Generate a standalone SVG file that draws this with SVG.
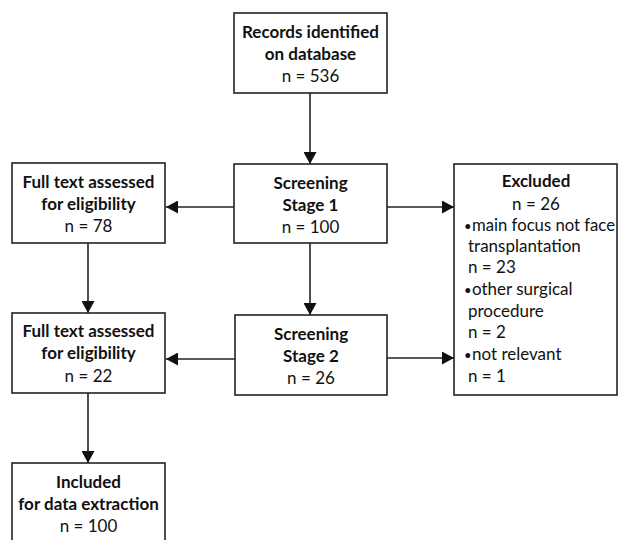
<svg xmlns="http://www.w3.org/2000/svg" width="619" height="540" viewBox="0 0 619 540">
<style>
.box{fill:#fff;stroke:#222;stroke-width:1.6}
.t{font-family:Lato,"Open Sans","Liberation Sans",sans-serif;font-size:17px;fill:#111;text-anchor:middle}
.b{font-weight:bold}
.l{text-anchor:start}
.c{stroke:#222;stroke-width:1.6;fill:none;marker-end:url(#ah)}
</style>
<defs>
<marker id="ah" markerWidth="13" markerHeight="13" refX="12" refY="6.5" orient="auto" markerUnits="userSpaceOnUse">
<path d="M0,0 L12,6.5 L0,13 z" fill="#111"/>
</marker>
</defs>
<rect width="619" height="540" fill="#fff"/>
<g id="connectors">
<line class="c" x1="310" y1="93" x2="310" y2="164"/>
<line class="c" x1="234" y1="207" x2="166" y2="207"/>
<line class="c" x1="387" y1="207" x2="454" y2="207"/>
<line class="c" x1="88" y1="243" x2="88" y2="313"/>
<line class="c" x1="310" y1="243" x2="310" y2="315"/>
<line class="c" x1="235" y1="359" x2="166" y2="359"/>
<line class="c" x1="387" y1="358" x2="454" y2="358"/>
<line class="c" x1="88" y1="393" x2="88" y2="463"/>
</g>
<g id="records">
<rect class="box" x="234" y="13" width="153" height="80"/>
<text class="t b" x="310.5" y="38">Records identified</text>
<text class="t b" x="310.5" y="60">on database</text>
<text class="t" x="310.5" y="82">n = 536</text>
</g>
<g id="fulltext1">
<rect class="box" x="12" y="163" width="153" height="80"/>
<text class="t b" x="88.5" y="188">Full text assessed</text>
<text class="t b" x="88.5" y="210">for eligibility</text>
<text class="t" x="88.5" y="232">n = 78</text>
</g>
<g id="screening1">
<rect class="box" x="234" y="164" width="153" height="79"/>
<text class="t b" x="310.5" y="189">Screening</text>
<text class="t b" x="310.5" y="211">Stage 1</text>
<text class="t" x="310.5" y="233">n = 100</text>
</g>
<g id="excluded">
<rect class="box" x="454" y="164" width="163" height="231"/>
<text class="t b" x="536" y="187">Excluded</text>
<text class="t" x="536" y="210">n = 26</text>
<text class="t l" y="231"><tspan x="464" font-size="13">•</tspan><tspan x="472" textLength="143" lengthAdjust="spacingAndGlyphs">main focus not face</tspan></text>
<text class="t l" x="468" y="252">transplantation</text>
<text class="t l" x="468" y="273">n = 23</text>
<text class="t l" y="295"><tspan x="464" font-size="13">•</tspan><tspan x="472">other surgical</tspan></text>
<text class="t l" x="468" y="317">procedure</text>
<text class="t l" x="468" y="338">n = 2</text>
<text class="t l" y="360"><tspan x="464" font-size="13">•</tspan><tspan x="472">not relevant</tspan></text>
<text class="t l" x="468" y="382">n = 1</text>
</g>
<g id="fulltext2">
<rect class="box" x="12" y="313" width="153" height="80"/>
<text class="t b" x="88.5" y="337">Full text assessed</text>
<text class="t b" x="88.5" y="359">for eligibility</text>
<text class="t" x="88.5" y="382">n = 22</text>
</g>
<g id="screening2">
<rect class="box" x="235" y="315" width="152" height="80"/>
<text class="t b" x="311" y="340">Screening</text>
<text class="t b" x="311" y="362">Stage 2</text>
<text class="t" x="311" y="384">n = 26</text>
</g>
<g id="included">
<rect class="box" x="12" y="463" width="153" height="90"/>
<text class="t b" x="88.5" y="488">Included</text>
<text class="t b" x="88.5" y="510">for data extraction</text>
<text class="t" x="88.5" y="532">n = 100</text>
</g>
</svg>
